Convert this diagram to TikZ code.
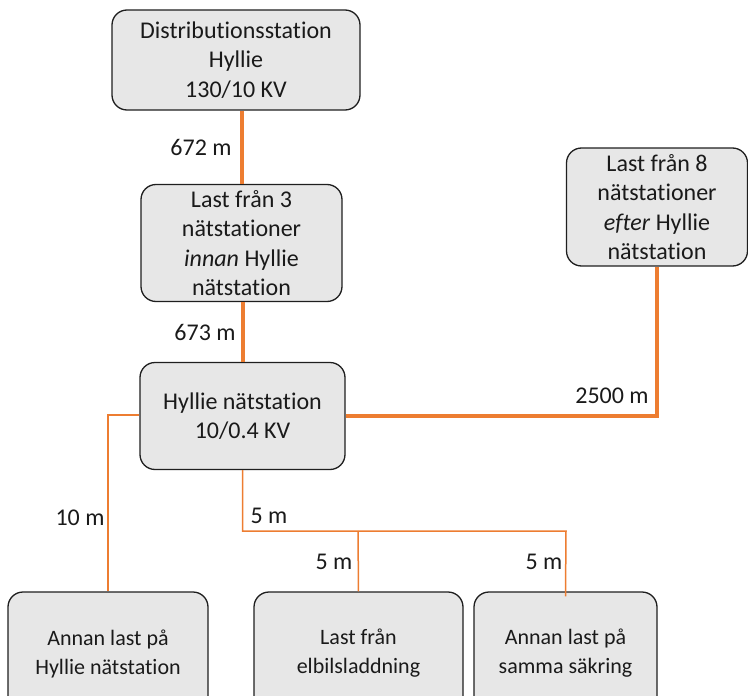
\documentclass[tikz,border=0pt]{standalone}
\usepackage{fontspec}
\setmainfont{Carlito}[Ligatures={NoCommon}]
\definecolor{feed}{HTML}{ED7D31}
\definecolor{boxfill}{HTML}{E7E7E7}
\definecolor{boxline}{HTML}{1F1F1F}
\definecolor{ink}{HTML}{1A1A1A}
\begin{document}
\begin{tikzpicture}[x=1pt,y=-1pt,
  station/.style={draw=boxline,line width=1.3pt,fill=boxfill,rounded corners=15pt,
    align=center,inner sep=0pt,text=ink,font=\fontsize{24}{29.5}\selectfont},
  load/.style={station,font=\fontsize{22}{29}\selectfont},
  heavy/.style={draw=feed,line width=4pt},
  light/.style={draw=feed,line width=1.5pt},
  dist/.style={text=ink,font=\fontsize{24}{28}\selectfont,inner sep=0pt}]
\useasboundingbox (0,0) rectangle (748,696);
\begin{scope}
\clip (0,0) rectangle (748,696);
% substations and loads
\node[station,minimum width=248pt,minimum height=100pt] (dist) at (236,60)
  {Distributionsstation\\Hyllie\\130/10 KV};
\node[station,minimum width=201pt,minimum height=117pt] (before) at (241.5,243)
  {Last från 3\\nätstationer\\\textit{innan} Hyllie\\nätstation};
\node[station,minimum width=205pt,minimum height=107pt] (hyllie) at (242.5,416)
  {Hyllie nätstation\\10/0.4 KV};
\node[station,minimum width=181pt,minimum height=118pt] (after) at (657,207)
  {Last från 8\\nätstationer\\\textit{efter} Hyllie\\nätstation};
\node[load,minimum width=200pt,minimum height=123pt] (other) at (108,653.5)
  {Annan last på\\Hyllie nätstation};
\node[load,minimum width=209pt,minimum height=123pt] (ev) at (358.5,653.5)
  {Last från\\elbilsladdning};
\node[load,minimum width=183pt,minimum height=123pt] (fuse) at (565.5,653.5)
  {Annan last på\\samma säkring};
\end{scope}
% junctions of the low-voltage feeder
\coordinate (j1) at (242,531);
\coordinate (j2) at (358,531);
\coordinate (j3) at (566,531);
% medium-voltage cables
\draw[heavy] (before.north |- dist.south) -- (before.north);
\draw[heavy] (hyllie.north) -- (hyllie.north |- before.south);
\draw[heavy] (hyllie.east |- 0,416) -| (after.south);
% low-voltage cables
\draw[light] (hyllie.west |- 0,415) -| (other.north);
\draw[light] (hyllie.south) |- (j3) -- ([yshift=-5pt]fuse.north);
\draw[light] (j2) -- (ev.north);
% cable lengths
\node[dist] (l1) at (201,147) {672 m};
\node[dist] (l2) at (205,332) {673 m};
\node[dist] (l3) at (612,396) {2500 m};
\node[dist] (l4) at (80,518) {10 m};
\node[dist] (l5) at (269,516) {5 m};
\node[dist] (l6) at (334,562) {5 m};
\node[dist] (l7) at (544,562) {5 m};
\end{tikzpicture}
\end{document}
